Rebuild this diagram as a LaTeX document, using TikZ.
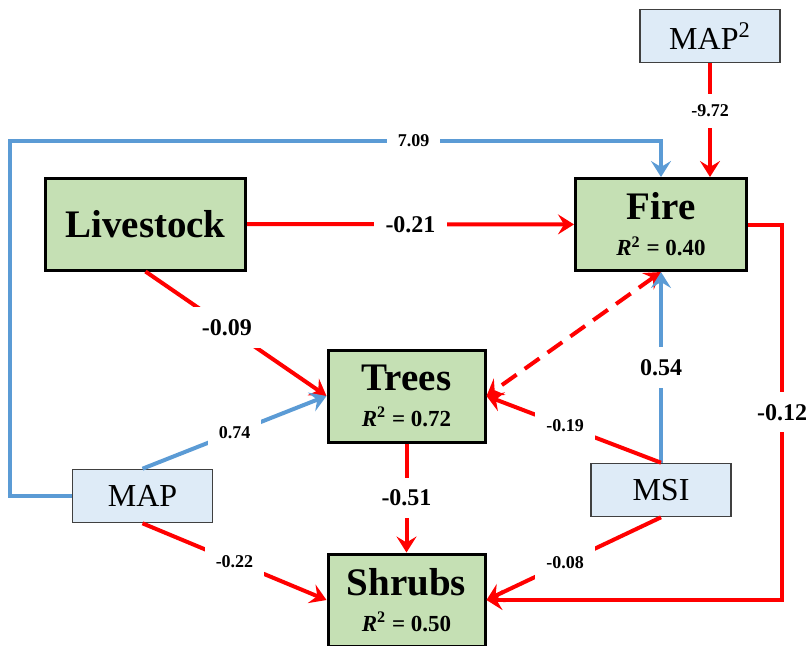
\documentclass[tikz,border=0pt]{standalone}
\usepackage{fontspec}
\setmainfont{Liberation Serif}
\usepackage{tikz}
\usetikzlibrary{arrows.meta}
\definecolor{pathred}{HTML}{FF0000}
\definecolor{pathblue}{HTML}{5B9BD5}
\definecolor{leaf}{HTML}{C5E0B4}
\definecolor{haze}{HTML}{DEEBF7}
\newcommand{\rsq}[1]{\textit{R}\textsuperscript{2} = #1}
\newcommand{\bigname}{\fontsize{19.5}{20}\selectfont}
\newcommand{\smallfit}{\fontsize{11.5}{17}\selectfont}

\begin{document}
\begin{tikzpicture}[x=0.5pt,y=-0.5pt,>={Stealth[length=8pt,width=10pt,inset=3pt]},
  box/.style={draw=black,line width=1.5pt,fill=leaf,minimum width=78.5pt,minimum height=46pt,align=center,font=\bfseries},
  obs/.style={draw=black!75,line width=0.8pt,fill=haze,minimum width=70pt,minimum height=26.5pt,font=\fontsize{16}{16}\selectfont},
  negarr/.style={->,line width=2pt,pathred},
  posarr/.style={->,line width=2pt,pathblue},
  coef/.style={fill=white,inner sep=6pt,text=black,font=\bfseries\fontsize{12}{12}\selectfont},
  scoef/.style={coef,inner sep=5.5pt,font=\bfseries\fontsize{9}{9}\selectfont}]
\useasboundingbox (0,0) rectangle (810,645);
\node[box,minimum width=100pt] (live) at (145.5,224) {\bigname Livestock};
\node[box,minimum width=85.5pt] (fire) at (661,224.5) {\bigname Fire\\[6pt]\smallfit\rsq{0.40}};
\node[box] (trees) at (406.5,396) {\bigname Trees\\[6pt]\smallfit\rsq{0.72}};
\node[box] (shrubs) at (406.5,600) {\bigname Shrubs\\[6pt]\smallfit\rsq{0.50}};
\node[obs] (map) at (142.5,496) {MAP};
\node[obs] (msi) at (661,490) {MSI};
\node[obs] (map2) at (710,36) {MAP\textsuperscript{2}};
\coordinate (bend) at (10,141);
\draw[posarr] (map.west) -| (bend) -- node[scoef,pos=0.62]{7.09} (bend -| fire.north) -- (fire.north);
\draw[negarr] (map2.south) -- node[scoef,pos=0.42]{-9.72} (map2.south |- fire.north);
\draw[negarr] (live) -- node[coef]{-0.21} (fire);
\draw[negarr] (live.south) -- node[coef,pos=0.45]{-0.09} (trees.west);
\draw[posarr] (map.north) -- node[scoef]{0.74} (trees.west);
\draw[negarr] (map.south) -- node[scoef]{-0.22} (shrubs.west);
\draw[negarr] (trees) -- node[coef]{-0.51} (shrubs);
\draw[negarr,<->,dash pattern=on 9pt off 5pt] (fire.south) -- (trees.east);
\draw[posarr] (msi.north) -- node[coef]{0.54} (fire.south);
\draw[negarr] (msi.north) -- node[scoef,pos=0.55]{-0.19} (trees.east);
\draw[negarr] (msi.south) -- node[scoef,pos=0.55]{-0.08} (shrubs.east);
\draw[negarr] (fire.east) -- ++(34,0) |- node[coef,pos=0.25]{-0.12} (shrubs.east);
\end{tikzpicture}
\end{document}
